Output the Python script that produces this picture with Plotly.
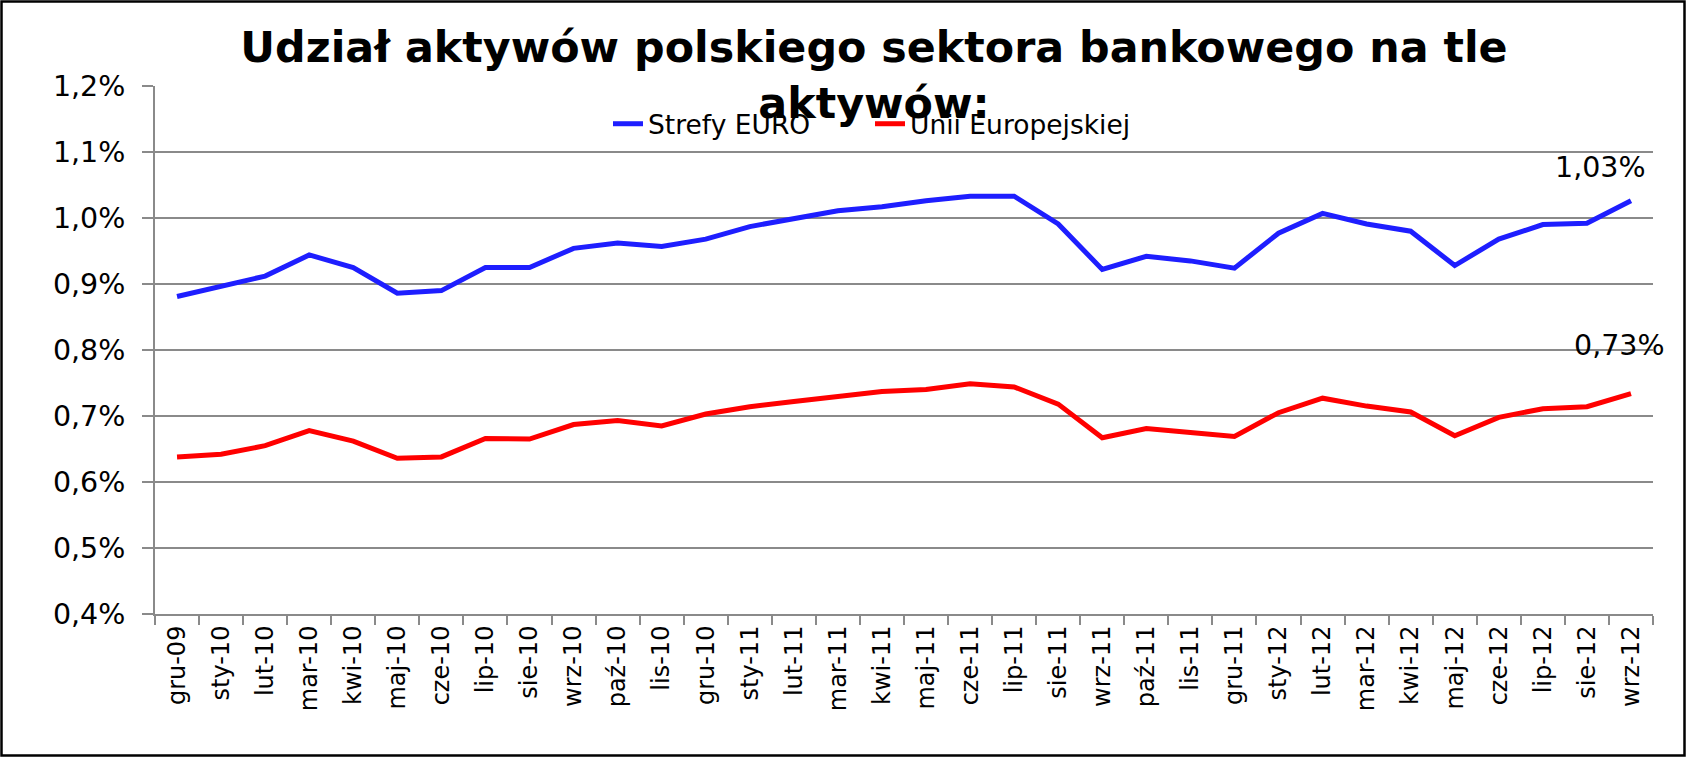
import plotly.graph_objects as go

categories = ["gru-09", "sty-10", "lut-10", "mar-10", "kwi-10", "maj-10", "cze-10",
              "lip-10", "sie-10", "wrz-10", "paź-10", "lis-10", "gru-10", "sty-11",
              "lut-11", "mar-11", "kwi-11", "maj-11", "cze-11", "lip-11", "sie-11",
              "wrz-11", "paź-11", "lis-11", "gru-11", "sty-12", "lut-12", "mar-12",
              "kwi-12", "maj-12", "cze-12", "lip-12", "sie-12", "wrz-12"]

strefa_euro = [0.881, 0.896, 0.912, 0.944, 0.925, 0.886, 0.890, 0.925, 0.925, 0.954,
               0.962, 0.957, 0.968, 0.987, 0.999, 1.011, 1.017, 1.026, 1.033, 1.033,
               0.991, 0.922, 0.942, 0.935, 0.924, 0.977, 1.007, 0.991, 0.980, 0.928,
               0.968, 0.990, 0.992, 1.026]

unia_eur = [0.638, 0.642, 0.655, 0.678, 0.662, 0.636, 0.638, 0.666, 0.665, 0.687,
            0.693, 0.685, 0.703, 0.714, 0.722, 0.730, 0.737, 0.740, 0.749, 0.744,
            0.718, 0.667, 0.681, 0.675, 0.669, 0.705, 0.727, 0.715, 0.706, 0.670,
            0.698, 0.711, 0.714, 0.734]

series_names = ["Strefy EURO", "Unii Europejskiej"]
title_text = "Udział aktywów polskiego sektora bankowego na tle<br>aktywów:"
y_ticks = [0.4, 0.5, 0.6, 0.7, 0.8, 0.9, 1.0, 1.1, 1.2]
y_tick_labels = [f"{v:.1f}%".replace(".", ",") for v in y_ticks]

W, H = 1686, 757
ML, MR, MT, MB = 155, 33, 86, 143
pw, ph = W - ML - MR, H - MT - MB

BLUE = "#1e1eff"
RED = "#ff0000"
GRID = "#8a8a8a"
FONT = "DejaVu Sans"

fig = go.Figure()
fig.add_trace(go.Scatter(x=categories, y=strefa_euro, mode="lines", name=series_names[0],
                         line=dict(color=BLUE, width=5)))
fig.add_trace(go.Scatter(x=categories, y=unia_eur, mode="lines", name=series_names[1],
                         line=dict(color=RED, width=5)))


def fmt(v):
    return f"{v:.2f}%".replace(".", ",")


fig.add_annotation(x=categories[-1], y=strefa_euro[-1], text=fmt(strefa_euro[-1]),
                   showarrow=False, xanchor="center", yanchor="middle",
                   xshift=-30, yshift=33, font=dict(family=FONT, size=28.5, color="black"))
fig.add_annotation(x=categories[-1], y=unia_eur[-1], text=fmt(unia_eur[-1]),
                   showarrow=False, xanchor="center", yanchor="middle",
                   xshift=-11, yshift=48, font=dict(family=FONT, size=28.5, color="black"))


def px_x(p):
    return (p - ML) / pw


def px_y(p):
    return (H - MB - p) / ph


# outer border of the chart
fig.add_shape(type="rect", xref="paper", yref="paper",
              x0=px_x(1.5), x1=px_x(W - 1.5), y0=px_y(H - 1.5), y1=px_y(1.5),
              line=dict(color="black", width=2.5), layer="above")

fig.update_layout(
    width=W, height=H,
    margin=dict(l=ML, r=MR, t=MT, b=MB, pad=0),
    paper_bgcolor="white", plot_bgcolor="white",
    font=dict(family=FONT, color="black"),
    title=dict(text=title_text, x=874 / W, xanchor="center", y=1 - 62 / H, yanchor="top",
               font=dict(family=FONT, size=42.8, color="black", weight="bold")),
    showlegend=True,
    legend=dict(orientation="h", x=px_x(608), xanchor="left",
                y=px_y(124), yanchor="middle",
                font=dict(family=FONT, size=26.5, color="black"),
                bgcolor="rgba(0,0,0,0)", itemwidth=30,
                entrywidth=217, entrywidthmode="pixels"),
    xaxis=dict(type="category", range=[-0.5, len(categories) - 0.5],
               showgrid=False, tickson="boundaries", ticks="outside", ticklen=9,
               tickwidth=2, tickcolor=GRID, tickangle=-90, showline=True,
               linecolor=GRID, linewidth=2,
               tickfont=dict(family=FONT, size=24, color="black"), zeroline=False),
    yaxis=dict(range=[0.4, 1.2], tickmode="array", tickvals=y_ticks, ticktext=y_tick_labels,
               showgrid=True, gridcolor=GRID, gridwidth=2, ticks="outside", ticklen=11,
               tickwidth=2, tickcolor=GRID, showline=True, linecolor=GRID, linewidth=2,
               ticklabelstandoff=11,
               tickfont=dict(family=FONT, size=28.5, color="black"), zeroline=False),
)

fig.write_html("out.html", config={"displayModeBar": False},
               post_script="document.body.style.margin='0px';")
